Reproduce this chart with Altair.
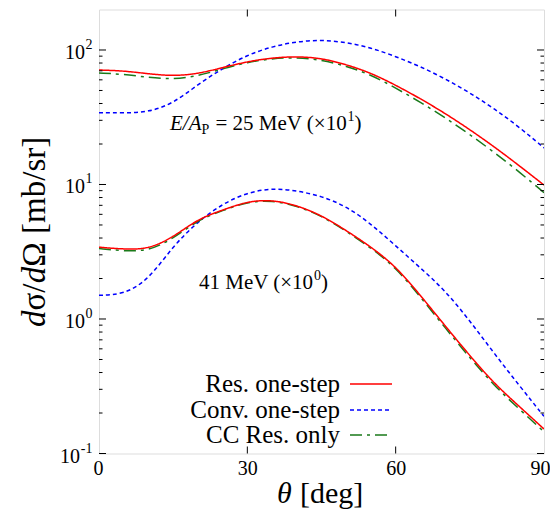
import altair as alt
import pandas as pd

# ---------------- data ----------------
theta = [0, 5, 10, 15, 20, 25, 30, 35, 40, 45, 50, 55, 60, 65, 70, 75, 80, 85, 90]

# E/A = 25 MeV (x10)
res25 = [71, 70, 66.5, 64, 66.5, 74, 82, 87.5, 89.5, 87, 78, 67.5, 54.8, 43.5, 33.8, 25.6, 19.0, 13.8, 9.9]
conv25 = [34.2, 34, 34.5, 40, 55.5, 73, 92, 106, 115.5, 119, 114, 104, 89.5, 75.3, 61.2, 48.1, 36.5, 26.7, 18.7]
cc25 = [67.5, 66, 62.5, 60.5, 64, 72.5, 81, 86.5, 88, 84.5, 76, 65.5, 52.2, 40.9, 31.4, 23.5, 17.3, 12.4, 8.7]

# 41 MeV (x1)
res41 = [3.42, 3.3, 3.3, 4.05, 5.55, 6.45, 7.5, 7.7, 7.0, 5.9, 4.55, 3.44, 2.47, 1.5, 0.89, 0.533, 0.329, 0.224, 0.152]
conv41 = [1.5, 1.52, 1.95, 3.5, 5.3, 7.2, 8.7, 9.4, 9.0, 8.2, 6.9, 5.1, 3.5, 2.4, 1.63, 0.97, 0.55, 0.32, 0.189]
cc41 = [3.34, 3.2, 3.2, 3.95, 5.45, 6.4, 7.45, 7.62, 6.95, 5.85, 4.5, 3.38, 2.42, 1.46, 0.86, 0.515, 0.317, 0.214, 0.145]

series_names = ["Res. one-step", "Conv. one-step", "CC Res. only"]
series_colors = ["#ff0000", "#0000ff", "#1a7a1a"]
series_dash = [[1, 0], [4, 3], [12, 5, 3, 5]]

y_major = [0.1, 1, 10, 100]
y_major_exp = ["-1", "0", "1", "2"]
y_minor = [0.2, 0.3, 0.4, 0.5, 0.6, 0.7, 0.8, 0.9,
           2, 3, 4, 5, 6, 7, 8, 9,
           20, 30, 40, 50, 60, 70, 80, 90]
x_labels = [0, 30, 60, 90]
x_inner_ticks = [30, 60]

# ---------------- build tables ----------------
rows = []
for name, v25, v41 in zip(series_names, [res25, conv25, cc25], [res41, conv41, cc41]):
    for t, a, b in zip(theta, v25, v41):
        rows.append({"theta": t, "value": a, "series": name, "energy": "25"})
        rows.append({"theta": t, "value": b, "series": name, "energy": "41"})
df = pd.DataFrame(rows)

W, H = 445, 444
FONT = "Liberation Serif"

xs = alt.Scale(domain=[0, 90], nice=False, zero=False)
ys = alt.Scale(type="log", domain=[0.1, 200], nice=False)

x_axis = alt.Axis(values=x_labels, title=None, ticks=False, domain=False, grid=False,
                  labelFont=FONT, labelFontSize=20, labelPadding=5, labelColor="black",
                  labelFlush=True, labelFlushOffset=6)
y_axis = alt.Axis(values=y_major, title=None, ticks=False, domain=False, grid=False,
                  labels=False)

layers = []
# curves: blue below, then green, red on top
for idx in [1, 2, 0]:
    name = series_names[idx]
    layers.append(
        alt.Chart(df).transform_filter(alt.datum.series == name)
        .mark_line(color=series_colors[idx], strokeWidth=1.5,
                   strokeDash=series_dash[idx], interpolate="basis", clip=True)
        .encode(x=alt.X("theta:Q", scale=xs, axis=x_axis),
                y=alt.Y("value:Q", scale=ys, axis=y_axis),
                detail="energy:N")
    )

# inward ticks (mirrored)
maj = pd.DataFrame({"v": y_major})
mnr = pd.DataFrame({"v": y_minor})
xt = pd.DataFrame({"v": x_inner_ticks})
tick_style = dict(color="black", strokeWidth=1)
layers += [
    alt.Chart(maj).mark_rule(**tick_style).encode(
        y=alt.Y("v:Q", scale=ys, axis=y_axis), x=alt.value(0), x2=alt.value(7)),
    alt.Chart(mnr).mark_rule(**tick_style).encode(
        y=alt.Y("v:Q", scale=ys, axis=y_axis), x=alt.value(0), x2=alt.value(3.5)),
    alt.Chart(maj).mark_rule(**tick_style).encode(
        y=alt.Y("v:Q", scale=ys, axis=y_axis), x=alt.value(W), x2=alt.value(W - 7)),
    alt.Chart(mnr).mark_rule(**tick_style).encode(
        y=alt.Y("v:Q", scale=ys, axis=y_axis), x=alt.value(W), x2=alt.value(W - 3.5)),
    alt.Chart(xt).mark_rule(**tick_style).encode(
        x=alt.X("v:Q", scale=xs, axis=x_axis), y=alt.value(H), y2=alt.value(H - 7)),
    alt.Chart(xt).mark_rule(**tick_style).encode(
        x=alt.X("v:Q", scale=xs, axis=x_axis), y=alt.value(0), y2=alt.value(7)),
]

# y tick labels: "10" with superscript exponent
ylab = pd.DataFrame({"v": y_major, "exp": y_major_exp, "base": ["10"] * len(y_major)})
lab_style = dict(font=FONT, color="black", align="right", baseline="middle")
layers += [
    alt.Chart(ylab).transform_filter("length(datum.exp) == 1")
    .mark_text(fontSize=20, dy=3, **lab_style)
    .encode(y=alt.Y("v:Q", scale=ys, axis=y_axis), x=alt.value(-14), text="base:N"),
    alt.Chart(ylab).transform_filter("length(datum.exp) > 1")
    .mark_text(fontSize=20, dy=3, **lab_style)
    .encode(y=alt.Y("v:Q", scale=ys, axis=y_axis), x=alt.value(-19), text="base:N"),
    alt.Chart(ylab)
    .mark_text(fontSize=14, dy=-5, **lab_style)
    .encode(y=alt.Y("v:Q", scale=ys, axis=y_axis), x=alt.value(-6.5), text="exp:N"),
]


def txt(s, x, y, size, italic=False, align="left", angle=0, dx=0, baseline="alphabetic"):
    kw = dict(font=FONT, fontSize=size, align=align, baseline=baseline, color="black",
              fontStyle="italic" if italic else "normal", dx=dx)
    if angle:
        kw["angle"] = angle
    return alt.Chart(pd.DataFrame({"t": [s]})).mark_text(**kw).encode(
        x=alt.value(x), y=alt.value(y), text="t:N")


# annotations
layers += [
    txt("E/A", 71, 120, 21, italic=True),
    txt("P", 102.5, 124, 14),
    txt("= 25 MeV (\u00d710", 116.5, 120, 21),
    txt("1", 248.5, 111, 14),
    txt(")", 255.5, 120, 21),
    txt("41 MeV (\u00d710", 100, 279, 21),
    txt("0", 215, 270, 14),
    txt(")", 222, 279, 21),
]

# legend
LS = 25
leg_y = [374.5, 400.5, 425.5]
for name, col, dash, yy in zip(series_names, series_colors, series_dash, leg_y):
    layers.append(txt(name, 241, yy + 8, LS, align="right"))
    layers.append(
        alt.Chart(pd.DataFrame({"s": [name]})).mark_rule(color=col, strokeWidth=1.5, strokeDash=dash)
        .encode(x=alt.value(251), x2=alt.value(293), y=alt.value(yy))
    )

# axis titles
TS = 30
cx = W / 2
layers += [
    txt("\u03b8", cx - 44.5, 493.5, TS, italic=True, align="left"),
    txt("[deg]", cx - 21.5, 493.5, TS, align="left"),
]
YS = 33
cy = H / 2
start = -5.79 * YS / 2
layers += [
    txt("d", -54, cy, YS, italic=True, angle=270, dx=start),
    txt("\u03c3/", -54, cy, YS, angle=270, dx=start + 0.5 * YS),
    txt("d", -54, cy, YS, italic=True, angle=270, dx=start + 1.328 * YS),
    txt("\u03a9 [mb/sr]", -54, cy, YS, angle=270, dx=start + 1.828 * YS),
]

chart = (
    alt.layer(*layers)
    .properties(width=W, height=H,
                autosize=alt.AutoSizeParams(type="none"),
                padding={"left": 91, "top": 1.5, "right": 6, "bottom": 56})
    .configure_view(stroke="black", strokeWidth=1.5)
    .configure(background="white")
)

chart.save("out.html", embed_options={"renderer": "svg", "actions": False})
